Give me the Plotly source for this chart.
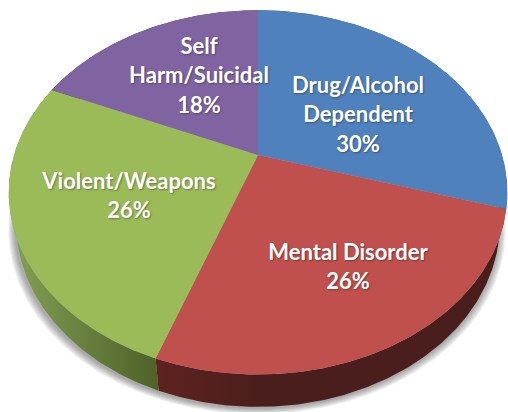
import numpy as np
import plotly.graph_objects as go

categories = ["Drug/Alcohol Dependent", "Mental Disorder", "Violent/Weapons", "Self Harm/Suicidal"]
values = [29.7, 25.8, 26.1, 18.4]
label_lines = [["Drug/Alcohol", "Dependent"], ["Mental Disorder"], ["Violent/Weapons"], ["Self", "Harm/Suicidal"]]
label_x = [358, 348, 129, 199]
label_y = [[87, 116, 146], [254, 283], [183, 212], [48, 77, 107]]
top_colors = ["#4f81bd", "#c0504d", "#9bbb59", "#8064a2"]
wall_colors = [
    [[0, "#2f4d71"], [1, "#3a5f8c"]],
    [[0, "#5e2220"], [0.3, "#4a1e1c"], [1, "#4a1e1c"]],
    [[0, "#87a352"], [0.35, "#6f8a45"], [1, "#4f6128"]],
    [[0, "#4c3c61"], [1, "#4c3c61"]],
]

CX, CY, A, B, K = 258, 155, 244, 174.5, 0.205
DEPTH, BOTTOM_SCALE = 31, 0.97


def rim(theta, lower=False):
    u, v = np.sin(theta), -np.cos(theta)
    w = 1 - K * v
    s = BOTTOM_SCALE if lower else 1.0
    x = CX + s * A * u / w
    y = CY + s * B * v / w + (DEPTH / w if lower else 0)
    return x, y


fig = go.Figure()


def poly(x, y, **kw):
    fig.add_trace(go.Scatter(x=x, y=y, mode="lines", fill="toself", line=dict(width=0),
                             hoverinfo="skip", showlegend=False, **kw))


# soft shadow below the pie body
full = np.linspace(0, 2 * np.pi, 361)
for grow in range(1, 8):
    x, y = rim(full, lower=True)
    poly(CX + (x - CX) * (1 + grow * 0.004) - 1, y + grow * 0.9 + 1, fillcolor="rgba(60,60,60,0.08)")

edges = np.cumsum([0] + values) / sum(values) * 2 * np.pi
# side walls
for i in range(len(values)):
    t = np.linspace(edges[i], edges[i + 1], 160)
    x1, y1 = rim(t)
    x2, y2 = rim(t[::-1], lower=True)
    poly(np.r_[x1, x2], np.r_[y1, y2],
         fillgradient=dict(type="horizontal", colorscale=wall_colors[i]))
# top faces
for i in range(len(values)):
    t = np.linspace(edges[i], edges[i + 1], 160)
    x, y = rim(t)
    poly(np.r_[CX, x, CX], np.r_[CY, y, CY], fillcolor=top_colors[i], name=categories[i])

# labels: name lines plus the rounded share
for lines, val, lx, ys in zip(label_lines, values, label_x, label_y):
    texts = lines + [f"{round(val)}%"]
    fig.add_trace(go.Scatter(
        x=[lx] * len(texts), y=ys, text=texts, mode="text", showlegend=False, hoverinfo="skip",
        textposition="middle center",
        textfont=dict(family="Lato, Open Sans, sans-serif", size=22, color="white", weight="bold",
                      shadow="1px 1px 2px rgba(0,0,0,0.35)")))

fig.update_layout(
    width=508, height=412, autosize=False, margin=dict(l=0, r=0, t=0, b=0),
    paper_bgcolor="white", plot_bgcolor="white", showlegend=False,
    xaxis=dict(range=[0, 508], visible=False, fixedrange=True),
    yaxis=dict(range=[412, 0], visible=False, fixedrange=True),
)
fig.write_html("out.html", config=dict(displayModeBar=False),
               post_script="document.body.style.margin='0';document.documentElement.style.overflow='hidden';")
